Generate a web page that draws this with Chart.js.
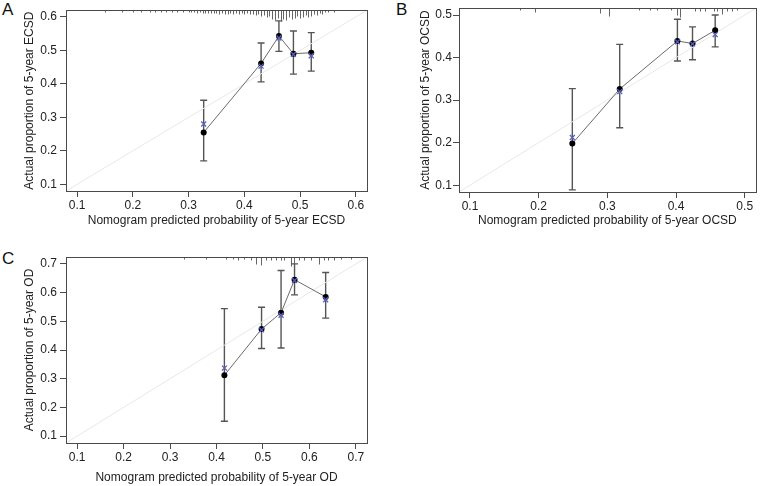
<!DOCTYPE html>
<html>
<head>
<meta charset="utf-8">
<script src="https://cdn.jsdelivr.net/npm/chart.js@4/dist/chart.umd.min.js"></script>
<style>
  html, body { margin: 0; padding: 0; background: #fff; }
  body { width: 761px; height: 486px; position: relative; overflow: hidden; font-family: "Liberation Sans", Arial, sans-serif; }
  canvas { position: absolute; }
  .lab { position: absolute; font-size: 17px; color: #111; line-height: 1; }
</style>
</head>
<body>
<div class="lab" style="left:2px;top:1px;">A</div>
<div class="lab" style="left:396px;top:1px;">B</div>
<div class="lab" style="left:2px;top:250px;">C</div>
<canvas id="cA" width="380" height="240" style="left:0;top:0;"></canvas>
<canvas id="cB" width="381" height="240" style="left:380px;top:0;"></canvas>
<canvas id="cC" width="380" height="246" style="left:0;top:240px;"></canvas>
<script>
// ---------- Panel A: 5-year ECSD ----------
const A_predicted = [0.327, 0.430, 0.462, 0.488, 0.520];
const A_observed  = [0.255, 0.461, 0.543, 0.490, 0.493];
const A_lower     = [0.170, 0.406, 0.497, 0.429, 0.438];
const A_upper     = [0.351, 0.522, 0.588, 0.558, 0.553];
const A_corrected = [0.280, 0.453, 0.537, 0.488, 0.484];
const A_rugX = [0.15,0.18,0.20,0.215,0.23,0.24,0.25,0.26,0.27,0.28,0.29,0.30,0.305,0.31,0.315,0.32,0.325,0.33,0.335,0.34,0.345,0.35,0.355,0.36,0.365,0.37,0.375,0.38,0.385,0.39,0.395,0.40,0.405,0.41,0.415,0.42,0.425,0.43,0.435,0.44,0.445,0.45,0.455,0.46,0.465,0.47,0.475,0.48,0.485,0.49,0.495,0.50,0.505,0.51,0.515,0.52,0.525,0.53,0.535,0.54,0.545,0.55,0.56];
const A_rugN = [1,1,1,1,1,1,1,1,1,1,1,1,1,1,2,1,2,2,2,2,2,2,3,2,3,3,2,3,2,3,2,3,2,3,3,4,3,5,4,6,5,8,9,7,10,8,9,6,8,7,5,7,6,4,6,5,3,4,2,3,1,1,1];
const A_ticks = [0.1, 0.2, 0.3, 0.4, 0.5, 0.6];
const A_tickLabels = ["0.1", "0.2", "0.3", "0.4", "0.5", "0.6"];
const A_range = [0.08, 0.62];
const A_xTitle = "Nomogram predicted probability of 5-year ECSD";
const A_yTitle = "Actual proportion of 5-year ECSD";

// ---------- Panel B: 5-year OCSD ----------
const B_predicted = [0.249, 0.318, 0.402, 0.424, 0.457];
const B_observed  = [0.198, 0.326, 0.439, 0.433, 0.464];
const B_lower     = [0.089, 0.235, 0.392, 0.395, 0.425];
const B_upper     = [0.327, 0.431, 0.490, 0.472, 0.500];
const B_corrected = [0.212, 0.320, 0.437, 0.432, 0.454];
const B_rugX = [0.173,0.195,0.289,0.302,0.346,0.362,0.373,0.392,0.402,0.406,0.428,0.435,0.442,0.455,0.460,0.467,0.474,0.481,0.489];
const B_rugN = [1,3,4,7,1,1,1,1,6,8,2,2,2,2,2,5,2,2,1];
const B_ticks = [0.1, 0.2, 0.3, 0.4, 0.5];
const B_tickLabels = ["0.1", "0.2", "0.3", "0.4", "0.5"];
const B_range = [0.084, 0.516];
const B_xTitle = "Nomogram predicted probability of 5-year OCSD";
const B_yTitle = "Actual proportion of 5-year OCSD";

// ---------- Panel C: 5-year OD ----------
const C_predicted = [0.417, 0.497, 0.539, 0.568, 0.635];
const C_observed  = [0.312, 0.473, 0.530, 0.645, 0.585];
const C_lower     = [0.152, 0.405, 0.407, 0.592, 0.511];
const C_upper     = [0.544, 0.549, 0.677, 0.700, 0.670];
const C_corrected = [0.337, 0.470, 0.521, 0.642, 0.575];
const C_rugX = [0.329,0.377,0.420,0.435,0.446,0.460,0.474,0.485,0.496,0.507,0.517,0.528,0.539,0.545,0.561,0.567,0.578,0.589,0.604,0.621,0.632,0.641,0.654,0.669,0.690];
const C_rugN = [1,1,1,1,2,1,2,6,7,2,2,2,2,2,8,10,2,2,2,6,2,2,2,1,1];
const C_ticks = [0.1, 0.2, 0.3, 0.4, 0.5, 0.6, 0.7];
const C_tickLabels = ["0.1", "0.2", "0.3", "0.4", "0.5", "0.6", "0.7"];
const C_range = [0.076, 0.724];
const C_xTitle = "Nomogram predicted probability of 5-year OD";
const C_yTitle = "Actual proportion of 5-year OD";

const FONT = "'Liberation Sans', Arial, sans-serif";
const TXT = '#222';
const AXC = '#4a4a4a';

const panelPlugin = {
  id: 'panelExtras',
  beforeDatasetsDraw(chart) {
    const p = chart.options.plugins.panelExtras;
    const {ctx, chartArea: a} = chart;
    const xs = chart.scales.x, ys = chart.scales.y;
    ctx.save();
    // rug (distribution of predicted probabilities) hanging from the top border
    ctx.strokeStyle = '#666';
    ctx.lineWidth = 1;
    ctx.beginPath();
    const top = Math.round(a.top);
    p.rugX.forEach((v, i) => {
      const px = Math.round(xs.getPixelForValue(v)) + 0.5;
      ctx.moveTo(px, top);
      ctx.lineTo(px, top + 1.5 + p.rugN[i] * p.rugUnit);
    });
    ctx.stroke();
    // error bars
    ctx.strokeStyle = '#555';
    ctx.lineWidth = 1.4;
    ctx.beginPath();
    p.xs.forEach((v, i) => {
      const px = xs.getPixelForValue(v);
      const y1 = ys.getPixelForValue(p.lo[i]);
      const y2 = ys.getPixelForValue(p.hi[i]);
      ctx.moveTo(px, y1); ctx.lineTo(px, y2);
      ctx.moveTo(px - 3.5, y1); ctx.lineTo(px + 3.5, y1);
      ctx.moveTo(px - 3.5, y2); ctx.lineTo(px + 3.5, y2);
    });
    ctx.stroke();
    ctx.restore();
  },
  afterDraw(chart) {
    const {ctx, chartArea: a} = chart;
    ctx.save();
    ctx.strokeStyle = AXC;
    ctx.lineWidth = 1;
    ctx.strokeRect(Math.round(a.left) + 0.5, Math.round(a.top) + 0.5,
                   Math.round(a.right - a.left), Math.round(a.bottom - a.top));
    ctx.restore();
  }
};

function makePanel(id, d) {
  const diag = [{x: d.range[0], y: d.range[0]}, {x: d.range[1], y: d.range[1]}];
  const obs = d.pred.map((v, i) => ({x: v, y: d.obs[i]}));
  const cor = d.pred.map((v, i) => ({x: v, y: d.cor[i]}));
  const axisCommon = (ticks, labels) => ({
    type: 'linear',
    min: d.range[0], max: d.range[1],
    afterBuildTicks: s => { s.ticks = ticks.map(v => ({value: v})); },
    ticks: {
      callback: (v, i) => labels[i],
      font: {family: FONT, size: 12}, color: TXT,
      autoSkip: false, maxRotation: 0
    },
    grid: {drawOnChartArea: false, drawTicks: true, tickLength: 6, color: AXC, lineWidth: 1},
    border: {display: true, color: AXC, width: 1}
  });
  const xAxis = axisCommon(d.ticks, d.labels);
  xAxis.position = 'bottom';
  xAxis.ticks.padding = 1;
  xAxis.title = {display: true, text: d.xTitle, color: TXT, font: {family: FONT, size: 12}, padding: {top: 0, bottom: d.xTitlePad}};
  xAxis.afterFit = s => { s.height = d.xH; };
  const yAxis = axisCommon(d.ticks, d.labels);
  yAxis.position = 'left';
  yAxis.ticks.padding = d.yTickPad;
  yAxis.title = {display: true, text: d.yTitle, color: TXT, font: {family: FONT, size: 12}, padding: {top: d.yTitlePad, bottom: 0}};
  yAxis.afterFit = s => { s.width = d.yW; };

  return new Chart(document.getElementById(id), {
    type: 'scatter',
    data: {
      datasets: [
        {data: diag, showLine: true, borderColor: '#e8e8e8', borderWidth: 1, pointRadius: 0, order: 3},
        {data: obs, showLine: true, borderColor: '#6a6a6a', borderWidth: 1, pointRadius: 3,
         pointBackgroundColor: '#000', pointBorderColor: '#000', pointBorderWidth: 0, order: 2},
        {data: cor, showLine: false, pointStyle: 'crossRot', pointRadius: 3.5,
         pointBorderColor: '#5a60c4', pointBackgroundColor: '#5a60c4', pointBorderWidth: 1.3, order: 1}
      ]
    },
    options: {
      responsive: false, animation: false, devicePixelRatio: 1,
      layout: {padding: d.pad},
      scales: {x: xAxis, y: yAxis},
      plugins: {
        legend: {display: false}, tooltip: {enabled: false},
        panelExtras: {xs: d.pred, lo: d.lo, hi: d.hi, rugX: d.rugX, rugN: d.rugN, rugUnit: 1}
      }
    },
    plugins: [panelPlugin]
  });
}

makePanel('cA', {
  pred: A_predicted, obs: A_observed, lo: A_lower, hi: A_upper, cor: A_corrected,
  rugX: A_rugX, rugN: A_rugN, ticks: A_ticks, labels: A_tickLabels, range: A_range,
  xTitle: A_xTitle, yTitle: A_yTitle,
  pad: {left: 0, right: 13, top: 3, bottom: 0}, yW: 66, xH: 49, yTickPad: 3, yTitlePad: 22, xTitlePad: 12
});
makePanel('cB', {
  pred: B_predicted, obs: B_observed, lo: B_lower, hi: B_upper, cor: B_corrected,
  rugX: B_rugX, rugN: B_rugN, ticks: B_ticks, labels: B_tickLabels, range: B_range,
  xTitle: B_xTitle, yTitle: B_yTitle,
  pad: {left: 0, right: 2, top: 5, bottom: 0}, yW: 79, xH: 48, yTickPad: 1, yTitlePad: 38, xTitlePad: 12
});
makePanel('cC', {
  pred: C_predicted, obs: C_observed, lo: C_lower, hi: C_upper, cor: C_corrected,
  rugX: C_rugX, rugN: C_rugN, ticks: C_ticks, labels: C_tickLabels, range: C_range,
  xTitle: C_xTitle, yTitle: C_yTitle,
  pad: {left: 0, right: 13, top: 17, bottom: 0}, yW: 66, xH: 43, yTickPad: 3, yTitlePad: 22, xTitlePad: 1
});
</script>
</body>
</html>
